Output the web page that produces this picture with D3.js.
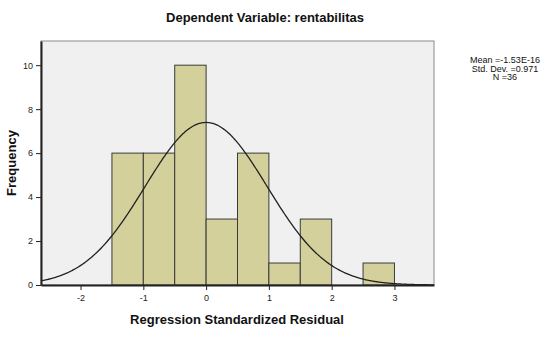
<!DOCTYPE html>
<html>
<head>
<meta charset="utf-8">
<script src="https://cdn.jsdelivr.net/npm/d3@7"></script>
<style>
  body { margin: 0; background: #fff; }
  text { font-family: Arial, "Liberation Sans", sans-serif; }
</style>
</head>
<body>
<div id="chart"></div>
<script>
// Datos del histograma
const binStarts = [-1.5, -1.0, -0.5, 0.0, 0.5, 1.0, 1.5, 2.0, 2.5];
const binWidth = 0.5;
const counts = [6, 6, 10, 3, 6, 1, 3, 0, 1];
const xTicks = [-2, -1, 0, 1, 2, 3];
const yTicks = [0, 2, 4, 6, 8, 10];
const mean = -1.53e-16;
const stdDev = 0.971;
const n = 36;
const statsLines = ["Mean =-1.53E-16", "Std. Dev. =0.971", "N =36"];

const width = 551, height = 358;
const plot = { left: 41, top: 41, right: 434, bottom: 285 };

const svg = d3.select("#chart").append("svg")
    .attr("width", width)
    .attr("height", height);

const x = d3.scaleLinear().domain([-2.63, 3.63]).range([plot.left, plot.right]);
const y = d3.scaleLinear().domain([0, 11.1]).range([plot.bottom, plot.top]);

// Fondo del área de trazado
svg.append("rect")
    .attr("x", plot.left).attr("y", plot.top)
    .attr("width", plot.right - plot.left)
    .attr("height", plot.bottom - plot.top)
    .attr("fill", "#f0f0f0")
    .attr("stroke", "#8a8a8a")
    .attr("stroke-width", 1);

// Barras
svg.selectAll("rect.bar")
    .data(binStarts.map((b, i) => ({ x0: b, count: counts[i] })).filter(d => d.count > 0))
    .enter()
    .append("rect")
    .attr("class", "bar")
    .attr("x", d => x(d.x0))
    .attr("y", d => y(d.count))
    .attr("width", d => x(d.x0 + binWidth) - x(d.x0))
    .attr("height", d => y(0) - y(d.count))
    .attr("fill", "#d4d09b")
    .attr("stroke", "#3a3a3a")
    .attr("stroke-width", 1);

// Curva normal
const xs = d3.range(-2.63, 3.63 + 0.001, 0.02);
const scaleFactor = n * binWidth / (stdDev * Math.sqrt(2 * Math.PI));
const line = d3.line()
    .x(d => x(d))
    .y(d => y(scaleFactor * Math.exp(-0.5 * Math.pow((d - mean) / stdDev, 2))))
    .curve(d3.curveBasis);
svg.append("path")
    .attr("d", line(xs))
    .attr("fill", "none")
    .attr("stroke", "#222")
    .attr("stroke-width", 1.3);

// Ejes (guion normal en lugar del signo menos Unicode)
const xAxis = svg.append("g")
    .attr("transform", `translate(0,${plot.bottom})`)
    .call(d3.axisBottom(x).tickValues(xTicks).tickFormat(d => String(d)).tickSize(5).tickSizeOuter(0));
const yAxis = svg.append("g")
    .attr("transform", `translate(${plot.left},0)`)
    .call(d3.axisLeft(y).tickValues(yTicks).tickFormat(d => String(d)).tickSize(5).tickSizeOuter(0));

[xAxis, yAxis].forEach(g => {
    g.select(".domain").attr("stroke", "#222").attr("stroke-width", 2);
    g.selectAll(".tick line").attr("stroke", "#222");
    g.selectAll(".tick text").attr("font-size", 9).attr("fill", "#222")
        .attr("font-family", "Arial, 'Liberation Sans', sans-serif");
});
xAxis.selectAll(".tick text").attr("dy", "0.9em");

// Título y etiquetas
svg.append("text")
    .attr("x", 265).attr("y", 22)
    .attr("text-anchor", "middle")
    .attr("font-size", 13).attr("font-weight", "bold")
    .attr("fill", "#111")
    .text("Dependent Variable: rentabilitas");

svg.append("text")
    .attr("x", 237).attr("y", 324)
    .attr("text-anchor", "middle")
    .attr("font-size", 13).attr("font-weight", "bold")
    .attr("fill", "#111")
    .text("Regression Standardized Residual");

svg.append("text")
    .attr("transform", "translate(16,163) rotate(-90)")
    .attr("text-anchor", "middle")
    .attr("font-size", 13).attr("font-weight", "bold")
    .attr("fill", "#111")
    .text("Frequency");

// Estadísticas
svg.append("g").selectAll("text")
    .data(statsLines)
    .enter()
    .append("text")
    .attr("x", 505)
    .attr("y", (d, i) => 63 + i * 8.5)
    .attr("text-anchor", "middle")
    .attr("font-size", 9)
    .attr("fill", "#111")
    .text(d => d);
</script>
</body>
</html>
